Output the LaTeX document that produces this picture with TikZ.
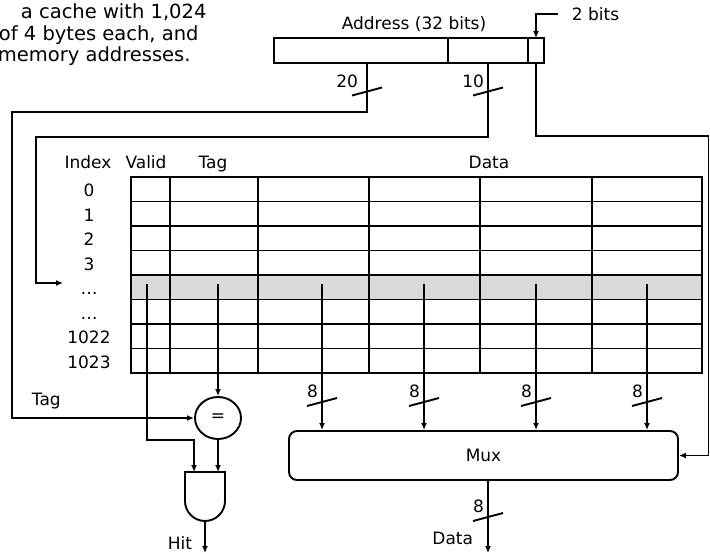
\documentclass[tikz,border=0pt]{standalone}
\usepackage{fontspec}
\setmainfont{DejaVu Sans}
\usetikzlibrary{arrows.meta, positioning, shapes.geometric}

\begin{document}
\begin{tikzpicture}[
  x=1pt, y=-1pt,
  >={Latex[length=7pt,width=6pt]},
  line width=1.9pt,
  font=\fontsize{17}{20}\selectfont,
  field/.style={
    rectangle, draw, outer sep=0pt,
    inner sep=0pt, minimum height=25pt
  },
  note/.style={font=\fontsize{19.5}{22}\selectfont, anchor=base west, inner sep=0pt},
  lbl/.style={anchor=base, inner sep=0pt},
  buslbl/.style={anchor=base east, inner sep=0pt},
  cmp/.style={ellipse, draw, inner sep=0pt, minimum width=46pt, minimum height=42pt},
  mux/.style={rectangle, draw, rounded corners=8pt, minimum width=389pt, minimum height=49pt},
  hilite/.style={fill=black!15},
  buswidth/.pic={\draw (-15,4) -- (15,-4);},
]
\useasboundingbox (0,0) rectangle (710,554);

% --- Note (cut at the left edge) ---
\node[note] (N1) at (20,18.3) {a cache with 1,024};
\node[note] (N2) at (-2,40.7) {of 4 bytes each, and};
\node[note] (N3) at (-3,61.7) {memory addresses.};

% --- Address fields ---
\node[field, minimum width=174pt, anchor=north west] (TAGF) at (274,38) {};
\node[field, minimum width=80pt, right=0pt of TAGF] (IDXF) {};
\node[field, minimum width=16pt, right=0pt of IDXF] (OFFF) {};
\node[lbl] (ADDR) at (414,29) {Address (32 bits)};
\node[lbl, anchor=base west] (TWO) at (571,20.5) {2 bits};
\coordinate (twoS) at (558,14);
\draw[->] (twoS) -| (OFFF.north);

\coordinate (tagS) at ([xshift=93pt]TAGF.south west);
\coordinate (idxS) at ([xshift=40pt]IDXF.south west);

% --- Cache table ---
\fill[hilite] (131,275) rectangle (702,299.5);
\foreach \r in {0,...,8}
  \draw[line cap=rect] (131,177+24.5*\r) -- (702,177+24.5*\r);
\foreach \c in {131,170,258,369,480,592,702}
  \draw[line cap=rect] (\c,177) -- (\c,373);

\node[lbl] (HIDX) at (88,168) {Index};
\node[lbl] (HVAL) at (146,168) {Valid};
\node[lbl] (HTAG) at (213,168) {Tag};
\node[lbl] (HDAT) at (489,168) {Data};
\foreach \t [count=\i from 0] in {0,1,2,3,\dots,\dots,1022,1023}
  \node[lbl] (I\i) at (89,196.5+24.5*\i) {\t};

\coordinate (vtap) at (147,284);
\coordinate (ttap) at (218,284);
\foreach \x [count=\k] in {322,424,536,647}
  \coordinate (d\k) at (\x,284);

% --- Tag compare and hit ---
\node[cmp] (CMP) at (218,418) {=};
\draw (185,472) -- (185,501) arc[start angle=180, end angle=360, radius=20pt] -- (225,472) -- cycle;
\coordinate (ANDa) at (194,472);
\coordinate (ANDb) at (218,472);
\coordinate (ANDo) at (205,521);
\coordinate (HITend) at (205,553);
\node[buslbl] (HIT) at (193,549) {Hit};

\draw[->] (ttap) -- (CMP.north);
\draw[->] (tagS) |- (12,112) |- (CMP.west);
\node[lbl, anchor=base west] (TAGL) at (31,405) {Tag};
\pic at (367,91.5) {buswidth};
\node[buslbl] (W20) at (359,87) {20};

\draw[->] (vtap) -- (147,440) -| (ANDa);
\draw[->] (CMP.south) -- (ANDb);
\draw[->] (ANDo) -- (HITend);

% --- Index select ---
\coordinate (rowsel) at (63,283);
\draw[->] (idxS) |- (36,137) |- (rowsel);
\pic at (488,91.5) {buswidth};
\node[buslbl] (W10) at (485,87) {10};

% --- Mux ---
\node[mux] (MUX) at (483.5,455.5) {Mux};
\foreach \k in {1,...,4}
  \draw[->] (d\k) -- (d\k |- MUX.north);
\foreach \x in {322,424,536,647}{
  \pic at (\x,402) {buswidth};
  \node[buslbl] (W\x) at (\x-3,397) {8};
}
\draw[->] (OFFF.south) |- (708.5,136) |- (MUX.east);

\coordinate (muxout) at ([xshift=4.5pt]MUX.south);
\coordinate (dataend) at (488,553);
\draw[->] (muxout) -- (dataend);
\pic at (488,517) {buswidth};
\node[buslbl] (WOUT) at (485,512) {8};
\node[buslbl] (DOUT) at (474,544) {Data};

\end{tikzpicture}
\end{document}
